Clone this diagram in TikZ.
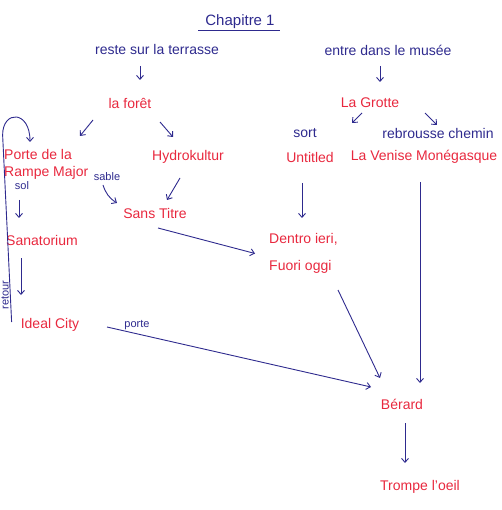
\documentclass[tikz,border=0pt]{standalone}
\usepackage{fontspec}
\setmainfont{Liberation Sans}
\usetikzlibrary{arrows.meta, calc}
\definecolor{cblue}{HTML}{2E2A8E}
\definecolor{cred}{HTML}{E8283E}

\begin{document}
\begin{tikzpicture}[
  x=1pt, y=-1pt,
  >={Straight Barb[length=4pt, width=7pt]},
  place/.style={text=cred, font=\fontsize{14}{17}\selectfont, inner sep=1pt},
  move/.style={text=cblue, font=\fontsize{14}{17}\selectfont, inner sep=1pt},
  note/.style={text=cblue, font=\fontsize{11}{13}\selectfont, inner sep=1pt},
  arr/.style={->, line width=0.9pt, draw=cblue},
  ]
\useasboundingbox (0,0) rectangle (501,510);

% title and the two choices
\node[move, font=\fontsize{15}{18}\selectfont] (chap) at (240,22) {Chapitre 1};
\draw[cblue, line width=0.8pt] ([xshift=-6pt]chap.south west) -- ([xshift=4pt]chap.south east);
\node[move] (terr) at (157,50) {reste sur la terrasse};
\node[move] (musee) at (388,50) {entre dans le musée};

\node[place] (foret) at (130,103) {la forêt};
\node[place] (grotte) at (370,103) {La Grotte};
\node[move] (sort) at (305,133) {sort};
\node[move] (rebr) at (438,133) {rebrousse chemin};

% rooms
\node[place, align=left, anchor=north west] (porte) at (3,148) {Porte de la\\Rampe Major};
\node[place] (hydro) at (188,157) {Hydrokultur};
\node[place] (untitled) at (310,157) {Untitled};
\node[place] (venise) at (424,157) {La Venise Monégasque};
\node[note] (sol) at (22,186) {sol};
\node[note] (sable) at (107,177) {sable};
\node[place] (sans) at (155,213) {Sans Titre};
\node[place] (sana) at (42,240) {Sanatorium};
\node[place, align=left, anchor=west] (dentro) at (268,253.5) {Dentro ieri,\\[10pt]Fuori oggi};
\node[place] (ideal) at (50,325) {Ideal City};
\node[place] (berard) at (402,404) {Bérard};
\node[place] (trompe) at (420,487) {Trompe l'oeil};
\node[note, rotate=90] (ret) at (5,295) {retour};

\draw[arr] ($(terr)+(-17,16)$) -- ($(foret)+(10,-23)$);
\draw[arr] ($(musee)+(-8,16)$) -- ($(grotte)+(10,-21)$);
\draw[arr] ($(foret)+(-37,17)$) -- ($(porte.north west)+(77,-12)$);
\draw[arr] ($(foret)+(30,19)$) -- ($(hydro)+(-15,-20)$);
\draw[arr] ($(grotte)+(-8,10)$) -- ($(sort)+(47,-10)$);
\draw[arr] ($(grotte)+(55,10)$) -- ($(rebr)+(-1,-8)$);

\draw[arr] ($(ideal.west)+(-8,-3)$) -- ++(-9,-187)
  .. controls +(0,-25) and +(0,-32) .. ($(porte.north west)+(27,-6)$);
\draw[arr] ($(sol)+(-3,14)$) -- ($(sana)+(-23,-22)$);
\draw[arr] ($(sable)+(-4,8)$) to[bend right=20] ($(sans)+(-38,-10)$);
\draw[arr] ($(hydro)+(-8,21)$) -- ($(sans)+(12,-13)$);
\draw[arr] ($(sana)+(-21,18)$) -- ($(ideal)+(-29,-30)$);
\draw[arr] ($(untitled)+(-8,26)$) -- ($(dentro.west)+(34,-35.5)$);
\draw[arr] ($(sans)+(3,15)$) -- ($(dentro.west)+(-13,0)$);
\draw[arr] ($(dentro.west)+(70,36.5)$) -- ($(berard)+(-22,-26)$);
\draw[arr] ($(venise)+(-4,25)$) -- ($(berard)+(18,-21)$);
\draw[arr] ($(ideal)+(57,2)$) -- ($(berard)+(-31,-17)$);
\node[note] (portelbl) at (137,325) {porte};
\draw[arr] ($(berard)+(3,19)$) -- ($(trompe)+(-15,-24)$);
\end{tikzpicture}
\end{document}
